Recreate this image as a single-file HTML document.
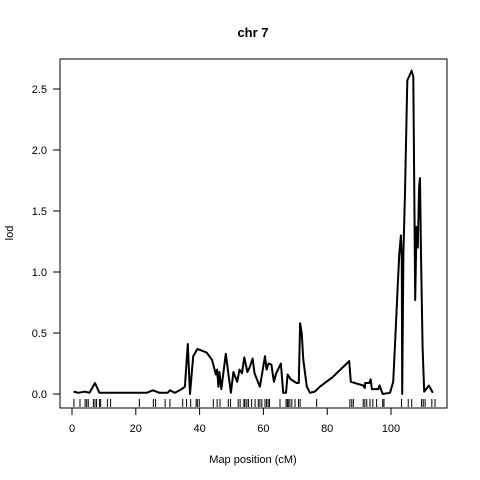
<!DOCTYPE html>
<html><head><meta charset="utf-8"><style>
html,body{margin:0;padding:0;background:#fff;}
svg{display:block;font-family:"Liberation Sans",Arial,sans-serif;}
</style></head><body>
<svg id="chart" width="480" height="480" xmlns="http://www.w3.org/2000/svg">
<rect x="0" y="0" width="480" height="480" fill="#fff"/>
<text x="253" y="37" text-anchor="middle" font-size="13" font-weight="bold">chr 7</text>
<rect x="60" y="59" width="387" height="349" fill="none" stroke="#000" stroke-width="1"/>
<text x="253" y="463" text-anchor="middle" font-size="11">Map position (cM)</text>
<text x="13" y="233" text-anchor="middle" font-size="11" transform="rotate(-90 13 233)">lod</text>
<g id="xaxis"></g>
<g id="yaxis"></g>
<g id="rug"></g>
<path id="line" fill="none" stroke="#000" stroke-width="2" stroke-linejoin="round"/>
</svg>
<script>
const xTicks=[0,20,40,60,80,100];
const yTicks=[0,0.5,1.0,1.5,2.0,2.5];
const yTickLabels=["0.0","0.5","1.0","1.5","2.0","2.5"];
const posCM=[0.5,2,4,5.5,7.2,8.6,12,16,20,23.4,25.4,27.4,30,30.7,32.3,34.4,35.4,36.3,37,38,39.3,42.2,43.9,45.1,45.5,45.9,46.2,46.8,48.2,48.9,49.8,50.6,51.8,52.5,53.3,54,55,55.7,56.6,57.2,58.9,60.5,61,61.6,62.5,63.3,64,65.5,66.2,67.1,67.6,68.6,70.4,71.1,71.5,72,72.5,73.6,74.6,76.1,77.7,81.8,86.9,87.4,91.3,91.8,91.9,93.2,93.6,94,96,96.4,97.4,99.7,100.7,101.3,102,102.6,103.1,103.4,103.5,103.9,104.4,105.1,106.5,107,107.3,107.6,108,108.4,108.8,109.1,109.4,109.9,110.4,111.6,111.9,113.1];
const lodVals=[0.02,0.01,0.02,0.01,0.09,0.01,0.01,0.01,0.01,0.01,0.03,0.01,0.01,0.03,0.01,0.04,0.06,0.41,0.0,0.31,0.37,0.34,0.28,0.16,0.2,0.06,0.18,0.04,0.33,0.19,0.01,0.18,0.1,0.2,0.17,0.3,0.18,0.22,0.29,0.17,0.06,0.31,0.2,0.25,0.24,0.1,0.17,0.25,0.01,0.01,0.16,0.12,0.09,0.09,0.58,0.5,0.28,0.06,0.01,0.02,0.06,0.14,0.27,0.1,0.07,0.05,0.09,0.09,0.12,0.04,0.04,0.07,0.0,0.01,0.1,0.42,0.83,1.15,1.3,1.1,0.0,1.16,1.65,2.57,2.65,2.6,1.65,0.77,1.37,1.2,1.7,1.77,1.14,0.38,0.02,0.06,0.07,0.01];
const markers=[0.6,2.5,4.1,4.6,5.1,6.7,7.2,7.7,8.6,9.0,11.1,12.1,21.1,25.5,26.2,29.2,30.7,34.7,35.9,37.2,38.9,39.3,39.9,44.3,45.5,46.4,49,49.7,52.1,52.7,53.9,54.2,54.8,55.3,56.3,57.4,58.4,58.9,59.5,60.5,61,61.5,61.9,65.2,67.1,67.5,67.8,68.3,68.9,69.9,71,71.5,76.7,87.1,87.7,88.2,91.3,91.8,92.4,93.4,94.3,95.5,97.4,97.8,103.3,105.4,106.5,109.6,110.1,110.7,112.8,113.8];
const xs=v=>72+v*3.19;
const ys=v=>394-v*122;
const NS="http://www.w3.org/2000/svg";
function mk(tag,attrs,parent){const e=document.createElementNS(NS,tag);for(const k in attrs)e.setAttribute(k,attrs[k]);parent.appendChild(e);return e;}
const xa=document.getElementById('xaxis');
mk('line',{x1:xs(xTicks[0]),x2:xs(xTicks[xTicks.length-1]),y1:408,y2:408,stroke:'#000'},xa);
xTicks.forEach(t=>{
  const l=mk('line',{x1:xs(t),x2:xs(t),y1:408,y2:415,stroke:'#000'},xa);
  
  
  const tx=mk('text',{x:xs(t),y:432,'text-anchor':'middle','font-size':11},xa);
  tx.textContent=t;
  
  
});
const ya=document.getElementById('yaxis');
mk('line',{x1:60,x2:60,y1:ys(yTicks[0]),y2:ys(yTicks[yTicks.length-1]),stroke:'#000'},ya);
yTicks.forEach((t,i)=>{
  const l=mk('line',{x1:53,x2:60,y1:ys(t),y2:ys(t),stroke:'#000'},ya);
  
  
  const tx=mk('text',{x:47,y:ys(t)+4,'text-anchor':'end','font-size':11},ya);
  tx.textContent=yTickLabels[i];
  
  
});
const rug=document.getElementById('rug');
markers.forEach(m=>{
  const l=mk('line',{x1:xs(m),x2:xs(m),y1:399,y2:407,stroke:'#000','stroke-width':1},rug);
  
  
});
let d='';
posCM.forEach((p,i)=>{d+=(i?'L':'M')+xs(p).toFixed(1)+' '+ys(lodVals[i]).toFixed(1);});
document.getElementById('line').setAttribute('d',d);
</script>
</body></html>
